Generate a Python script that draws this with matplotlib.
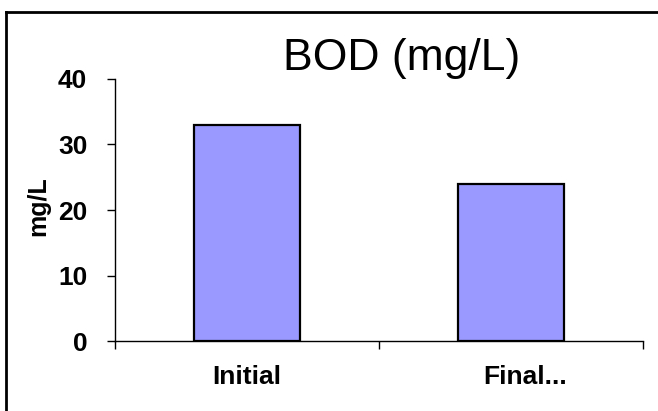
import matplotlib
matplotlib.use("Agg")
import matplotlib.pyplot as plt
from matplotlib.lines import Line2D
from matplotlib.transforms import ScaledTranslation

categories = ["Initial", "Final..."]
bod_values = [33, 24]
y_ticks = [0, 10, 20, 30, 40]

plt.rcParams["font.family"] = ["Liberation Sans", "DejaVu Sans"]

fig = plt.figure(figsize=(6.58, 4.11), dpi=100)
ax = fig.add_axes([0.1748, 0.1703, 0.8024, 0.6375])

x = range(len(categories))
ax.bar(x, bod_values, width=0.4, color="#9999FF", edgecolor="black", linewidth=1.6, zorder=3)

ax.set_xlim(-0.5, 1.5)
ax.set_ylim(0, 40)
ax.set_yticks(y_ticks)
ax.set_xticks(list(x))
ax.set_xticklabels(categories, fontsize=19, fontweight="bold")
ax.set_xticks([-0.5, 0.5, 1.5], minor=True)
ax.tick_params(axis="x", which="major", length=0, pad=17)
ax.tick_params(axis="x", which="minor", length=6, width=1, direction="out")
ax.tick_params(axis="y", length=6, width=1, direction="out", pad=14)
for lbl in ax.get_yticklabels():
    lbl.set_fontsize(19)
    lbl.set_fontweight("bold")

# truncated label sits a bit to the right in the original
last = ax.get_xticklabels()[1]
last.set_transform(last.get_transform() + ScaledTranslation(10 / 72, 0, fig.dpi_scale_trans))

for side in ["top", "right"]:
    ax.spines[side].set_visible(False)
ax.spines["left"].set_linewidth(1)
ax.spines["bottom"].set_linewidth(1)

ax.set_ylabel("mg/L", fontsize=18, fontweight="bold")
ax.yaxis.set_label_coords(-0.123, 0.515)

fig.text(402 / 658, 1 - 70 / 411, "BOD (mg/L)", fontsize=32, ha="center", va="baseline")

# outer chart border: only left and top edges are inside the picture
top = 1 - 12 / 411
left = 6 / 658
fig.add_artist(Line2D([left, left], [0, top], transform=fig.transFigure, color="black", linewidth=2))
fig.add_artist(Line2D([left, 1], [top, top], transform=fig.transFigure, color="black", linewidth=2))

fig.savefig("out.png", dpi=100)
